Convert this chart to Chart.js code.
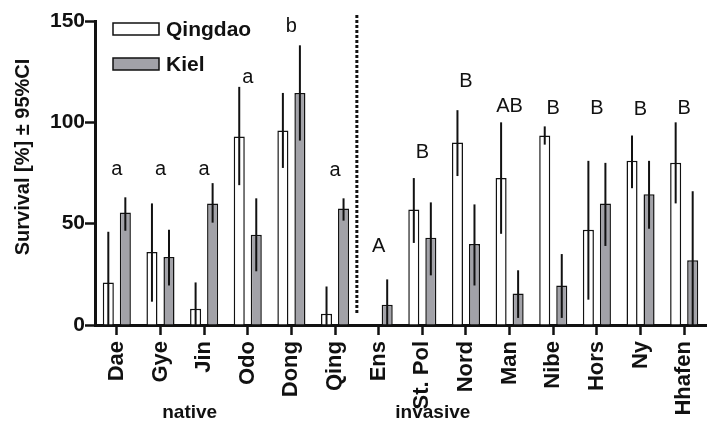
<!DOCTYPE html>
<html>
<head>
<meta charset="utf-8">
<script src="https://cdn.jsdelivr.net/npm/chart.js@4"></script>
<style>
	html, body { margin: 0; padding: 0; background: #fff; }
	#wrap { width: 707px; height: 423px; }
</style>
</head>
<body>
<div id="wrap"><canvas id="myChart"></canvas></div>
<script>
const categories = ["Dae", "Gye", "Jin", "Odo", "Dong", "Qing", "Ens", "St. Pol", "Nord", "Man", "Nibe", "Hors", "Ny", "Hhafen"];
const qingdao = [21, 36, 8, 93, 96, 5.5, 0, 57, 90, 72.5, 93.5, 47, 81, 80];
const qingdaoLow = [0, 11.5, 0, 69, 77.5, 0, null, 40.5, 73.5, 45, 89, 12.5, 67.5, 60];
const qingdaoHigh = [46, 60, 21, 117.5, 114.5, 19, null, 72.5, 106, 100, 98, 81, 93.5, 100];
const kiel = [55.5, 33.5, 60, 44.5, 114.5, 57.5, 10, 43, 40, 15.5, 19.5, 60, 64.5, 32];
const kielLow = [46.5, 19.5, 50.5, 26.5, 91, 51.5, 0, 24.5, 19.5, 3.5, 3.5, 39, 47.5, 0];
const kielHigh = [63, 47, 70, 62.5, 138, 62.5, 22.5, 60.5, 59.5, 27, 35, 80, 81, 66];
const letters = ["a", "a", "a", "a", "b", "a", "A", "B", "B", "AB", "B", "B", "B", "B"];
const letterAt = [74, 74, 74, 119.5, 144.5, 73.5, 36, 82.5, 117.5, 105, 104, 104, 103.5, 104];
const yTicks = [0, 50, 100, 150];
const groups = [{ text: "native", at: 1.67 }, { text: "invasive", at: 7.24 }];

const FONT = "'Liberation Sans', Arial, sans-serif";
const GREY = "#a2a2a8";

// error bars, letters, separator, groups, y title and legend
const extras = {
	id: "extras",
	afterDatasetsDraw(chart) {
		const ctx = chart.ctx;
		const y = chart.scales.y;
		const lows = [qingdaoLow, kielLow];
		const highs = [qingdaoHigh, kielHigh];
		ctx.save();
		ctx.strokeStyle = "#111";
		ctx.lineWidth = 2;
		for (let d = 0; d < 2; d++) {
			const meta = chart.getDatasetMeta(d);
			meta.data.forEach((bar, i) => {
				if (lows[d][i] == null) return;
				ctx.beginPath();
				ctx.moveTo(bar.x, y.getPixelForValue(lows[d][i]));
				ctx.lineTo(bar.x, y.getPixelForValue(highs[d][i]));
				ctx.stroke();
			});
		}
		ctx.restore();
	},
	afterDraw(chart) {
		const ctx = chart.ctx;
		const y = chart.scales.y;
		const x = chart.scales.x;
		ctx.save();
		// significance letters
		ctx.fillStyle = "#111";
		ctx.font = "20px " + FONT;
		ctx.textAlign = "center";
		ctx.textBaseline = "alphabetic";
		letters.forEach((t, i) => {
			ctx.fillText(t, x.getPixelForValue(i), y.getPixelForValue(letterAt[i]));
		});
		// dotted separator
		const sx = x.getPixelForValue(5.5);
		ctx.strokeStyle = "#111";
		ctx.lineWidth = 3;
		ctx.setLineDash([3, 2]);
		ctx.beginPath();
		ctx.moveTo(sx, 15);
		ctx.lineTo(sx, y.getPixelForValue(5));
		ctx.stroke();
		ctx.setLineDash([]);
		// group labels
		ctx.font = "bold 19px " + FONT;
		ctx.textBaseline = "middle";
		groups.forEach((g) => {
			ctx.fillText(g.text, x.getPixelForValue(g.at), 413);
		});
		// y title
		ctx.save();
		ctx.translate(23, 157);
		ctx.rotate(-Math.PI / 2);
		ctx.font = "bold 20px " + FONT;
		ctx.fillText("Survival [%] ± 95%CI", 0, 0);
		ctx.restore();
		// legend
		const items = [
			{ text: "Qingdao", fill: "#fff", top: 23 },
			{ text: "Kiel", fill: GREY, top: 58 },
		];
		ctx.lineWidth = 1.5;
		ctx.textAlign = "left";
		ctx.font = "bold 21px " + FONT;
		items.forEach((it) => {
			ctx.fillStyle = it.fill;
			ctx.fillRect(113, it.top, 46, 12);
			ctx.strokeStyle = "#111";
			ctx.strokeRect(113, it.top, 46, 12);
			ctx.fillStyle = "#111";
			ctx.fillText(it.text, 166, it.top + 7);
		});
		ctx.restore();
	},
};

const ctx = document.getElementById("myChart");

const myChart = new Chart(ctx, {
	type: "bar",
	data: {
		labels: categories,
		datasets: [
			{
				label: "Qingdao",
				data: qingdao,
				backgroundColor: "#fff",
				borderColor: "#111",
				borderWidth: 1.5,
			},
			{
				label: "Kiel",
				data: kiel,
				backgroundColor: GREY,
				borderColor: "#111",
				borderWidth: 1.5,
			},
		],
	},
	options: {
		responsive: true,
		maintainAspectRatio: false,
		animation: false,
		layout: {
			padding: { top: 21, right: 1, left: 0, bottom: 0 },
		},
		datasets: {
			bar: {
				categoryPercentage: 0.78,
				barPercentage: 0.65,
			},
		},
		scales: {
			x: {
				afterFit: (scale) => {
					scale.height = 98;
					scale.paddingLeft = 0;
					scale.paddingRight = 0;
				},
				grid: {
					offset: false,
					drawOnChartArea: false,
					tickLength: 10,
					tickWidth: 2.5,
					tickColor: "#111",
				},
				border: { color: "#111", width: 3 },
				ticks: {
					color: "#111",
					minRotation: 90,
					maxRotation: 90,
					autoSkip: false,
					padding: 6,
					font: { family: FONT, size: 22, weight: "bold" },
				},
			},
			y: {
				min: 0,
				max: 150,
				afterFit: (scale) => {
					scale.width = 95;
				},
				afterBuildTicks: (scale) => {
					scale.ticks = yTicks.map((v) => ({ value: v }));
				},
				grid: {
					drawOnChartArea: false,
					tickLength: 10,
					tickWidth: 2.5,
					tickColor: "#111",
				},
				border: { color: "#111", width: 3 },
				ticks: {
					color: "#111",
					padding: 0,
					font: { family: FONT, size: 21, weight: "bold" },
				},
			},
		},
		plugins: {
			legend: { display: false },
			tooltip: { enabled: false },
		},
	},
	plugins: [extras],
});
</script>
</body>
</html>
